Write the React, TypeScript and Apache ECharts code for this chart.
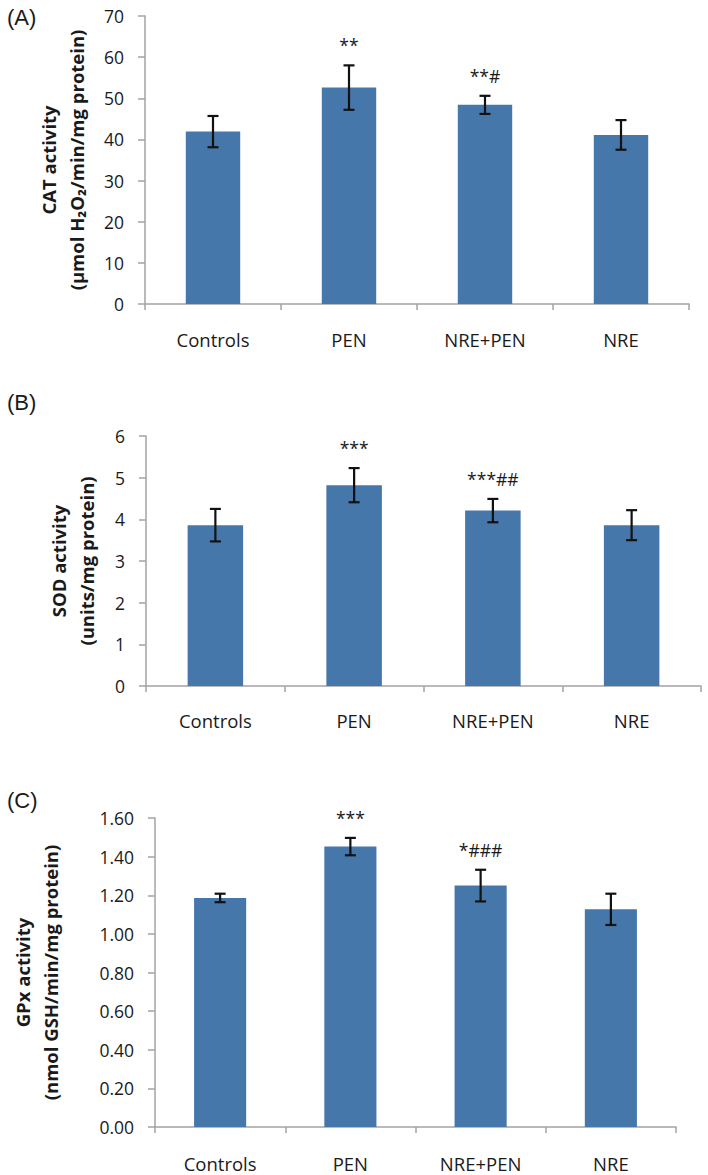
import React, { useEffect, useRef } from "react";
import * as echarts from "echarts";

const categories = ["Controls", "PEN", "NRE+PEN", "NRE"];

const catMeans = [41.9, 52.6, 48.4, 41.1];
const catErrors = [3.8, 5.4, 2.2, 3.6];
const catMarks = ["", "**", "**#", ""];

const sodMeans = [3.86, 4.82, 4.21, 3.86];
const sodErrors = [0.39, 0.41, 0.28, 0.36];
const sodMarks = ["", "***", "***##", ""];

const gpxMeans = [1.186, 1.452, 1.25, 1.127];
const gpxErrors = [0.022, 0.045, 0.082, 0.081];
const gpxMarks = ["", "***", "*###", ""];

const panelLabels = ["(A)", "(B)", "(C)"];
const yTitles = [
  "CAT activity\n(μmol H₂O₂/min/mg protein)",
  "SOD activity\n(units/mg protein)",
  "GPx activity\n(nmol GSH/min/mg protein)",
];

const FONT = "Open Sans";
const BAR = "#4677AB";
const AXIS = "#A3A3A3";
const TEXT = "#1a1a1a";

export default function App() {
  const ref = useRef<HTMLDivElement>(null);
  useEffect(() => {
    const chart = echarts.init(ref.current!, null, { renderer: "svg" });

    const grids = [
      { left: 145, right: 19, top: 16, height: 288 },
      { left: 146, right: 7, top: 436, height: 250 },
      { left: 150, right: 32, top: 818, height: 309 },
    ];
    const yCfg = [
      { min: 0, max: 70, interval: 10, fmt: (v: number) => String(v), gap: 55 },
      { min: 0, max: 6, interval: 1, fmt: (v: number) => String(v), gap: 46 },
      { min: 0, max: 1.6, interval: 0.2, fmt: (v: number) => v.toFixed(2), gap: 91 },
    ];
    const means = [catMeans, sodMeans, gpxMeans];
    const errs = [catErrors, sodErrors, gpxErrors];
    const marks = [catMarks, sodMarks, gpxMarks];
    const labelMargins = [26, 25, 27];

    const xAxis = grids.map((_, i) => ({
      type: "category",
      gridIndex: i,
      data: categories,
      axisLine: { show: true, lineStyle: { color: AXIS, width: 1.5 } },
      axisTick: { show: true, length: 6, lineStyle: { color: AXIS, width: 1.5 } },
      axisLabel: { color: TEXT, fontFamily: FONT, fontSize: 18.5, margin: labelMargins[i] },
    }));
    const yAxis = yCfg.map((c, i) => ({
      type: "value",
      gridIndex: i,
      min: c.min,
      max: c.max,
      interval: c.interval,
      splitLine: { show: false },
      axisLine: { show: true, lineStyle: { color: AXIS, width: 1.5 } },
      axisTick: { show: true, length: 7, lineStyle: { color: AXIS, width: 1.5 } },
      axisLabel: { color: TEXT, fontFamily: FONT, fontSize: 17.5, margin: 21, formatter: c.fmt },
      name: yTitles[i],
      nameLocation: "middle",
      nameRotate: 90,
      nameGap: c.gap,
      nameTextStyle: {
        color: TEXT,
        fontFamily: FONT,
        fontSize: 18.5,
        fontWeight: "bold",
        lineHeight: 28,
        align: "center",
      },
    }));

    const series: any[] = [];
    for (let i = 0; i < 3; i++) {
      series.push({
        type: "bar",
        xAxisIndex: i,
        yAxisIndex: i,
        data: means[i],
        barWidth: "40%",
        itemStyle: { color: BAR },
        z: 2,
      });
      const m = marks[i];
      series.push({
        type: "custom",
        xAxisIndex: i,
        yAxisIndex: i,
        z: 3,
        data: means[i].map((v, k) => [k, v, errs[i][k]]),
        encode: { x: 0, y: 1 },
        renderItem: (params: any, api: any) => {
          const x = api.value(0);
          const v = api.value(1);
          const e = api.value(2);
          const top = api.coord([x, v + e]);
          const bot = api.coord([x, v - e]);
          const cap = 5.5;
          const ls = { stroke: "#111", lineWidth: 2.2 };
          const children: any[] = [
            { type: "line", shape: { x1: top[0], y1: top[1], x2: bot[0], y2: bot[1] }, style: ls },
            { type: "line", shape: { x1: top[0] - cap, y1: top[1], x2: top[0] + cap, y2: top[1] }, style: ls },
            { type: "line", shape: { x1: bot[0] - cap, y1: bot[1], x2: bot[0] + cap, y2: bot[1] }, style: ls },
          ];
          const t = m[params.dataIndex];
          if (t) {
            children.push({
              type: "text",
              style: {
                text: t,
                x: top[0],
                y: top[1] - 20,
                align: "center",
                verticalAlign: "middle",
                fill: TEXT,
                font: `17.5px "${FONT}"`,
              },
            });
          }
          return { type: "group", children };
        },
      });
    }

    const graphic = panelLabels.map((t, i) => ({
      type: "text",
      left: 7,
      top: [6, 391, 789][i],
      style: { text: t, font: '22px "Liberation Sans"', fill: TEXT },
    }));

    chart.setOption({
      animation: false,
      backgroundColor: "#ffffff",
      grid: grids.map((g) => ({ ...g, containLabel: false })),
      xAxis,
      yAxis,
      series,
      graphic,
    });
    return () => chart.dispose();
  }, []);
  return (
    <div
      ref={ref}
      style={{ position: "absolute", left: 0, top: 0, width: 708, height: 1175 }}
    />
  );
}
